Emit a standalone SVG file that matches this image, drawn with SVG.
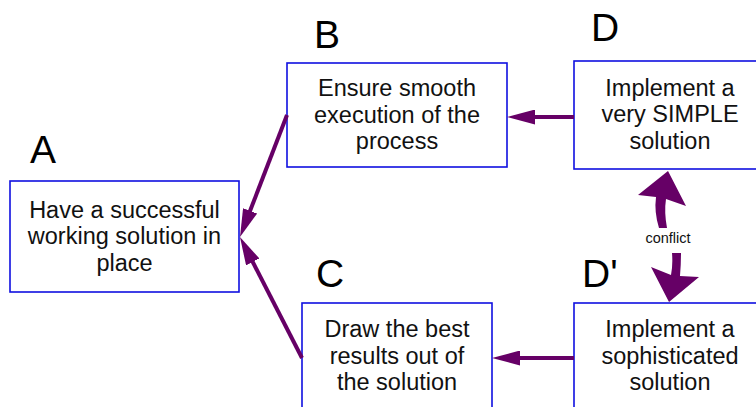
<svg xmlns="http://www.w3.org/2000/svg" width="756" height="407" viewBox="0 0 756 407">
  <defs>
    <style>
      .box { fill: #ffffff; stroke: #1010e0; stroke-width: 1.6; }
      .txt { font-family: "Liberation Sans", Arial, sans-serif; font-size: 23.5px; fill: #111111; text-anchor: middle; }
      .tag { font-family: "Liberation Sans", Arial, sans-serif; font-size: 39px; fill: #000000; }
      .note { font-family: "Liberation Sans", Arial, sans-serif; font-size: 14.5px; fill: #111111; text-anchor: middle; }
      .link { stroke: #660066; stroke-width: 4; fill: none; marker-end: url(#head); }
      .bold { fill: #660066; stroke: none; }
    </style>
    <marker id="head" viewBox="0 0 28 15" markerWidth="28" markerHeight="15" refX="8" refY="7.5" orient="auto" markerUnits="userSpaceOnUse">
      <path d="M0,0 L28,7.5 L0,15 z" fill="#660066"/>
    </marker>
  </defs>

  <rect width="756" height="407" fill="#ffffff"/>

  <!-- nodes -->
  <g id="nodeA">
    <rect class="box" x="10" y="181" width="229" height="111"/>
    <text class="tag" x="30" y="163">A</text>
    <text class="txt"><tspan x="124.5" y="217.5">Have a successful</tspan><tspan x="124.5" y="244">working solution in</tspan><tspan x="124.5" y="270.5">place</tspan></text>
  </g>

  <g id="nodeB">
    <rect class="box" x="287" y="63" width="220" height="104"/>
    <text class="tag" x="314" y="48">B</text>
    <text class="txt"><tspan x="397" y="96">Ensure smooth</tspan><tspan x="397" y="122.5">execution of the</tspan><tspan x="397" y="149">process</tspan></text>
  </g>

  <g id="nodeC">
    <rect class="box" x="302" y="303" width="190" height="106"/>
    <text class="tag" x="316" y="287">C</text>
    <text class="txt"><tspan x="397" y="337">Draw the best</tspan><tspan x="397" y="363.5">results out of</tspan><tspan x="397" y="390">the solution</tspan></text>
  </g>

  <g id="nodeD">
    <rect class="box" x="574" y="61" width="192" height="108"/>
    <text class="tag" x="591" y="41">D</text>
    <text class="txt"><tspan x="670" y="95.5">Implement a</tspan><tspan x="670" y="122">very SIMPLE</tspan><tspan x="670" y="148.5">solution</tspan></text>
  </g>

  <g id="nodeD2">
    <rect class="box" x="574" y="303" width="192" height="106"/>
    <text class="tag" x="582" y="287">D'</text>
    <text class="txt"><tspan x="670" y="337">Implement a</tspan><tspan x="670" y="363.5">sophisticated</tspan><tspan x="670" y="390">solution</tspan></text>
  </g>

  <!-- connectors -->
  <g id="connectors">
    <line class="link" x1="574" y1="117" x2="527" y2="117"/>
    <line class="link" x1="574" y1="358" x2="512" y2="358"/>
    <line class="link" x1="287" y1="115" x2="247.2" y2="218.3"/>
    <line class="link" x1="302" y1="358" x2="249.1" y2="254.8"/>

    <!-- conflict pair between D and D' -->
    <path class="bold" d="M668,171 L686,206 L666,199 Q664,212 667,228 L659,228 Q654,212 656,197 L638,195 Z"/>
    <path class="bold" d="M672,253 L681,253 Q681,265 680,276 L699,277 L669,302 L651,267 L671,275 Q673,265 672,253 Z"/>
    <text class="note" x="668" y="243">conflict</text>
  </g>
</svg>
